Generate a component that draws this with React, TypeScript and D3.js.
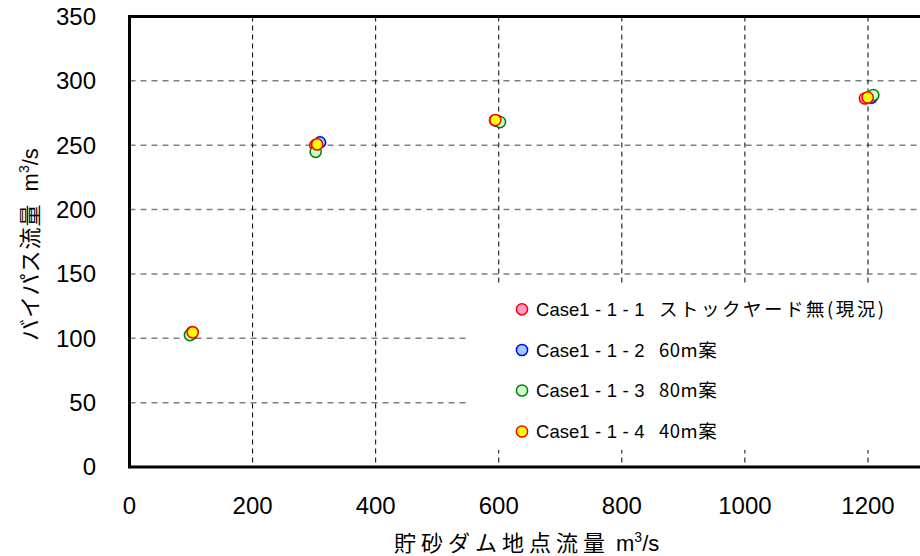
import React from "react";
import * as d3 from "d3";

const xTicks = [0, 200, 400, 600, 800, 1000, 1200];
const yTicks = [0, 50, 100, 150, 200, 250, 300, 350];

const seriesNames = ["Case1-1-1", "Case1-1-2", "Case1-1-3", "Case1-1-4"];
const seriesNotes = ["ストックヤード無(現況)", "60m案", "80m案", "40m案"];
const seriesFill = ["#FF99CC", "#99CCFF", "#CCFFCC", "#FFFF00"];
const seriesStroke = ["#FF0000", "#0000FF", "#008000", "#FF0000"];

const case1X = [102, 302, 594, 1195];
const case1Y = [104.8, 250, 269.4, 286.3];
const case2X = [101, 309.6, 597, 1206];
const case2Y = [103.5, 252.2, 269, 287];
const case3X = [98.3, 302.5, 602, 1208.6];
const case3Y = [102.5, 244.9, 268, 288.9];
const case4X = [102.7, 305, 594.5, 1199.5];
const case4Y = [104.6, 250.6, 269.5, 287.1];

const seriesX = [case1X, case2X, case3X, case4X];
const seriesY = [case1Y, case2Y, case3Y, case4Y];

const W = 920;
const H = 556;

export default function App() {
  const x = d3.scaleLinear().domain([0, 1400]).range([129.5, 129.5 + 1400 * 0.6154]);
  const y = d3.scaleLinear().domain([0, 350]).range([467, 16.5]);
  const latin = "'Liberation Sans', Arial, 'Noto Sans CJK JP', sans-serif";
  const cjk = "'Noto Sans CJK JP', 'Liberation Sans', sans-serif";

  const legendX = 522;
  const legendRowY = [309.3, 350, 390.5, 431.5];

  const renderCase = (s: string) =>
    s.split("").map((ch, i) => {
      const prevHyphen = i > 0 && s[i - 1] === "-";
      const dx = ch === "-" || prevHyphen ? 5.5 : 0;
      return (
        <tspan key={i} dx={dx}>
          {ch}
        </tspan>
      );
    });

  return (
    <svg
      width={W}
      height={H}
      style={{ position: "absolute", left: 0, top: 0, background: "#fff" }}
      fontFamily={latin}
    >
      <rect x={0} y={0} width={W} height={H} fill="#fff" />
      {/* horizontal gridlines */}
      {yTicks
        .filter((t) => t > 0 && t < 350)
        .map((t) => (
          <line
            key={"h" + t}
            x1={x(0)}
            x2={x(1400)}
            y1={y(t)}
            y2={y(t)}
            stroke="#808080"
            strokeWidth={1.5}
            strokeDasharray="6,5"
          />
        ))}
      {/* vertical gridlines */}
      {xTicks
        .filter((t) => t > 0)
        .map((t) => (
          <line
            key={"v" + t}
            x1={x(t)}
            x2={x(t)}
            y1={y(350)}
            y2={y(0)}
            stroke="#000"
            strokeWidth={1}
            strokeDasharray="5,4"
          />
        ))}
      {/* legend background */}
      <rect x={469} y={286} width={460} height={164} fill="#fff" />
      {/* frame */}
      <line x1={x(0)} x2={x(0)} y1={y(350)} y2={y(0)} stroke="#000" strokeWidth={3} />
      <line x1={x(0) - 1.5} x2={x(1400)} y1={y(350)} y2={y(350)} stroke="#000" strokeWidth={3} />
      <line x1={x(0) - 1.5} x2={x(1400)} y1={y(0)} y2={y(0)} stroke="#000" strokeWidth={3} />
      {/* points */}
      {seriesX.map((xs, si) =>
        xs.map((xv, i) => (
          <circle
            key={"p" + si + "-" + i}
            cx={x(xv)}
            cy={y(seriesY[si][i])}
            r={5.6}
            fill={seriesFill[si]}
            stroke={seriesStroke[si]}
            strokeWidth={1.5}
          />
        ))
      )}
      {/* y tick labels */}
      {yTicks.map((t) => (
        <text key={"yt" + t} x={96} y={y(t)} dy="0.35em" textAnchor="end" fontSize={24} fill="#000">
          {t}
        </text>
      ))}
      {/* x tick labels */}
      {xTicks.map((t) => (
        <text key={"xt" + t} x={x(t)} y={513.5} textAnchor="middle" fontSize={24} fill="#000">
          {t}
        </text>
      ))}
      {/* legend */}
      {seriesNames.map((name, i) => (
        <g key={"lg" + i}>
          <circle
            cx={legendX}
            cy={legendRowY[i]}
            r={5.6}
            fill={seriesFill[i]}
            stroke={seriesStroke[i]}
            strokeWidth={1.5}
          />
          <text x={536} y={legendRowY[i] + 6.5} fontSize={18.5} fill="#000">
            {renderCase(name)}
            <tspan x={659} fontFamily={cjk} fontSize={18.5} letterSpacing={i === 0 ? 2.5 : 0.5}>
              {seriesNotes[i]}
            </tspan>
          </text>
        </g>
      ))}
      {/* x axis title */}
      <text x={394} y={551} fontSize={22} fill="#000">
        <tspan fontFamily={cjk} letterSpacing={5}>
          貯砂ダム地点流量
        </tspan>
        <tspan dx={6}>m</tspan>
        <tspan dy={-9} fontSize={14}>
          3
        </tspan>
        <tspan dy={9}>/s</tspan>
      </text>
      {/* y axis title */}
      <text transform="translate(38,341) rotate(-90)" fontSize={22} fill="#000">
        <tspan fontFamily={cjk} letterSpacing={1}>
          バイパス流量
        </tspan>
        <tspan dx={12}>m</tspan>
        <tspan dy={-9} fontSize={14}>
          3
        </tspan>
        <tspan dy={9}>/s</tspan>
      </text>
    </svg>
  );
}
